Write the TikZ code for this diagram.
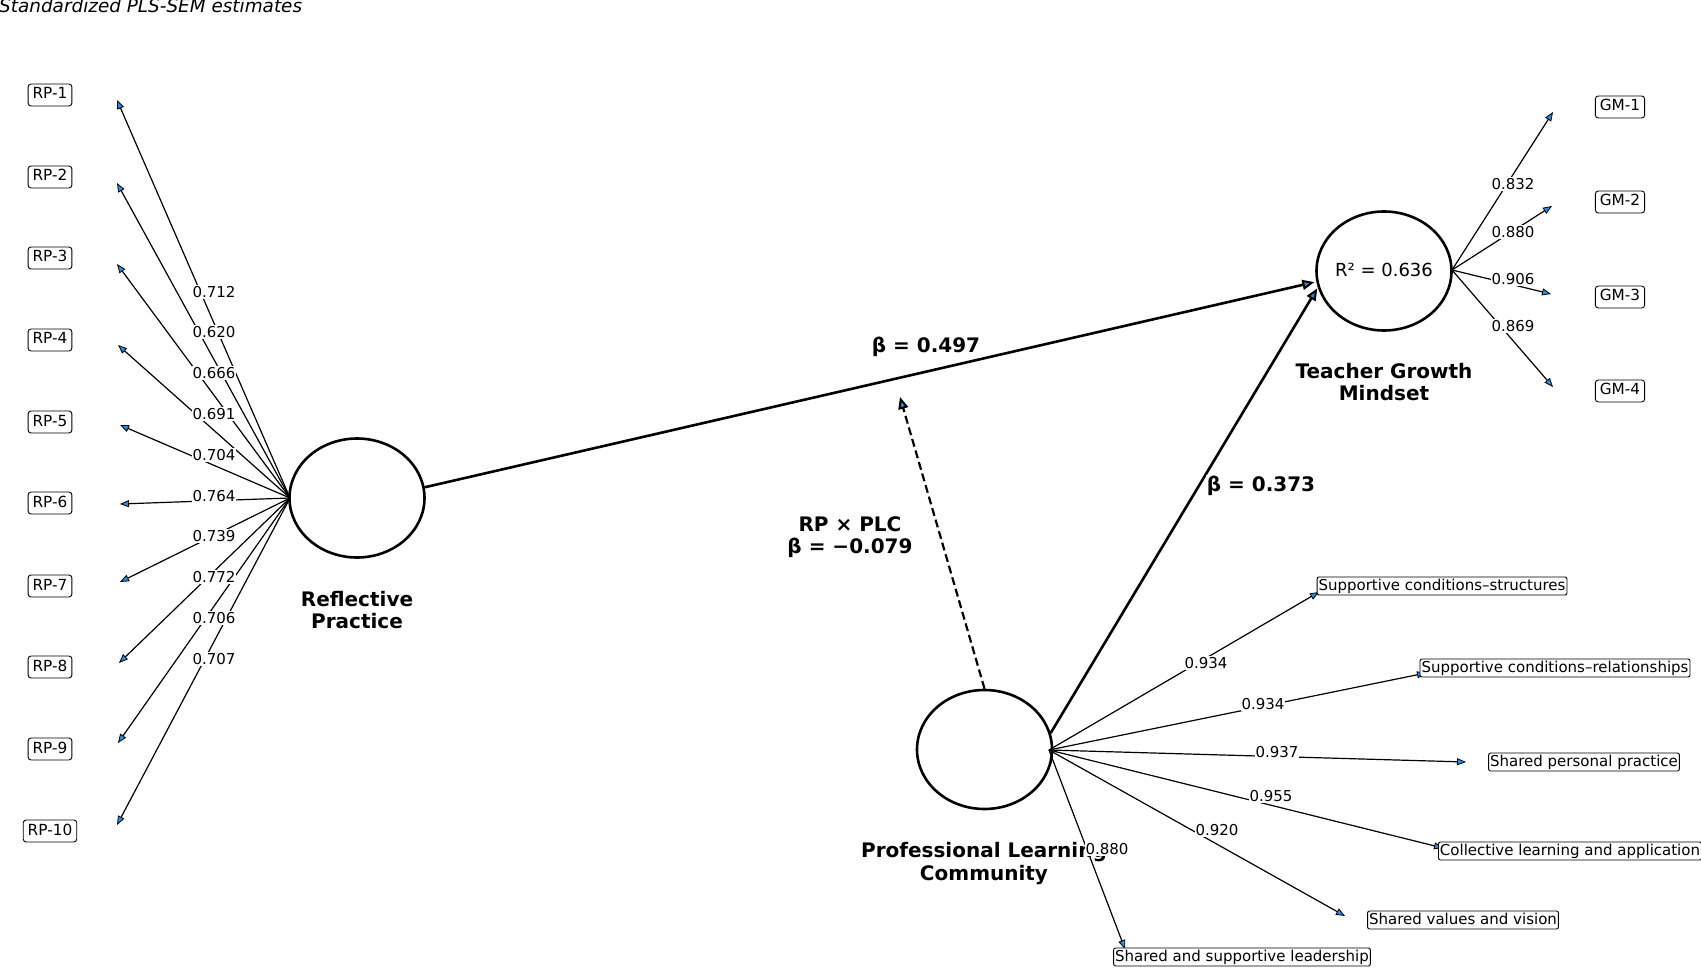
\documentclass[tikz,border=0pt]{standalone}
\usepackage{fontspec}
\setmainfont{DejaVu Sans}
\usetikzlibrary{arrows.meta,shapes.geometric}
\definecolor{headblue}{RGB}{40,140,230}
\begin{document}
\begin{tikzpicture}[x=1pt,y=-1pt,
  lv/.style={ellipse,draw,line width=2.6pt,minimum width=135pt,minimum height=119pt,inner sep=0pt},
  ind/.style={draw,line width=0.9pt,rounded corners=3pt,fill=white,font=\fontsize{15.3}{18}\selectfont,text height=11.5pt,text depth=3.5pt,inner xsep=4.5pt,inner ysep=3.5pt},
  indp/.style={ind,font=\fontsize{15}{18}\selectfont,rounded corners=2pt,inner xsep=1.5pt,inner ysep=1.5pt},
  ld/.style={fill=white,inner sep=1pt,font=\fontsize{15}{18}\selectfont},
  lat/.style={font=\fontsize{20}{24}\selectfont\bfseries,anchor=base},
  beta/.style={lat,fill=white,inner sep=1pt},
  loading/.style={line width=1.2pt,-{Triangle[length=9pt,width=7pt,fill=headblue,line width=0.8pt]}},
  structural/.style={line width=2.6pt,-{Triangle[length=12pt,width=10pt,fill=headblue,line width=2pt]}}]
\useasboundingbox (0,0) rectangle (1701,968);

% title
\node[anchor=base west,inner sep=0pt,font=\fontsize{18.4}{21}\selectfont\itshape] (title) at (-1,13) {Standardized PLS-SEM estimates};

% latent variables
\node[lv] (rp) at (357,498) {};
\node[lv] (tgm) at (1384,271) {};
\node[lv] (plc) at (984.5,749.5) {};
\node[font=\fontsize{18}{21}\selectfont,anchor=base] (r2) at (1384,277) {R² = 0.636};

% origins of loading arrows
\coordinate (rpo) at (290,498);
\coordinate (tgmo) at (1452,270);
\coordinate (plco) at (1049,750);

% RP indicators
\foreach \i/\y/\tx/\ty in {1/95/117/100,2/177/117/183,3/258/117/264,4/340/118/345,5/422/120/425,6/503/120/504,7/586/120/582,8/667/119/663,9/749/118/743,10/831/117/825}{
  \coordinate (rpt\i) at (\tx,\ty);
  \draw[loading] (rpo) -- (rpt\i);
  \node[ind] (rpb\i) at (50,\y) {RP-\i};
}
% GM indicators
\foreach \i/\y/\tx/\ty in {1/107/1553/112,2/202/1552/206,3/297/1551/294,4/391/1553/387}{
  \coordinate (gmt\i) at (\tx,\ty);
  \draw[loading] (tgmo) -- (gmt\i);
  \node[ind] (gmb\i) at (1620,\y) {GM-\i};
}
% PLC indicators
\coordinate (pt1) at (1319,592);
\coordinate (pt2) at (1426,673);
\coordinate (pt3) at (1466,762);
\coordinate (pt4) at (1443,848);
\coordinate (pt5) at (1345,916);
\coordinate (pt6) at (1125,949);
\foreach \i in {1,...,6}{\draw[loading] (plco) -- (pt\i);}
\node[indp] (pb1) at (1442,586) {Supportive conditions–structures};
\node[indp] (pb2) at (1555,668) {Supportive conditions–relationships};
\node[indp] (pb3) at (1584,762) {Shared personal practice};
\node[indp] (pb4) at (1570,851) {Collective learning and application};
\node[indp] (pb5) at (1463,920) {Shared values and vision};
\node[indp] (pb6) at (1242,957) {Shared and supportive leadership};

% structural paths
\coordinate (dtip) at (900,397);
\draw[structural,shorten >=2pt] (rp.9) -- (tgm.189);
\draw[structural,shorten >=1pt] (plc.14) -- (tgm.194);
\draw[structural,line width=2.2pt,dash pattern=on 8pt off 4pt] (plc.north) -- (dtip);

% latent labels
\node[lat] (rpl1) at (357,606) {Reflective};
\node[lat] (rpl2) at (357,628) {Practice};
\node[lat] (tgml1) at (1384,378) {Teacher Growth};
\node[lat] (tgml2) at (1384,401) {Mindset};
\node[lat] (plcl1) at (984,857) {Professional Learning};
\node[lat] (plcl2) at (984,880) {Community};

% path coefficients
\node[beta] (b1) at (926,353) {β = 0.497};
\node[beta] (b2) at (1261,491) {β = 0.373};
\node[lat] (b3a) at (850,531) {RP × PLC};
\node[lat] (b3b) at (850,553) {β = −0.079};

% loading labels
\foreach \v/\y in {0.712/292,0.620/332,0.666/373,0.691/414,0.704/455,0.764/496,0.739/536,0.772/577,0.706/618,0.707/659}{
  \node[ld] at (214,\y) {\v};
}
\foreach \v/\y in {0.832/184,0.880/232,0.906/279,0.869/326}{
  \node[ld] at (1513,\y) {\v};
}
\node[ld] (l1) at (1206,663) {0.934};
\node[ld] (l2) at (1263,704) {0.934};
\node[ld] (l3) at (1277,752) {0.937};
\node[ld] (l4) at (1271,796) {0.955};
\node[ld] (l5) at (1217,830) {0.920};
\node[ld] (l6) at (1107,849) {0.880};
\end{tikzpicture}
\end{document}
